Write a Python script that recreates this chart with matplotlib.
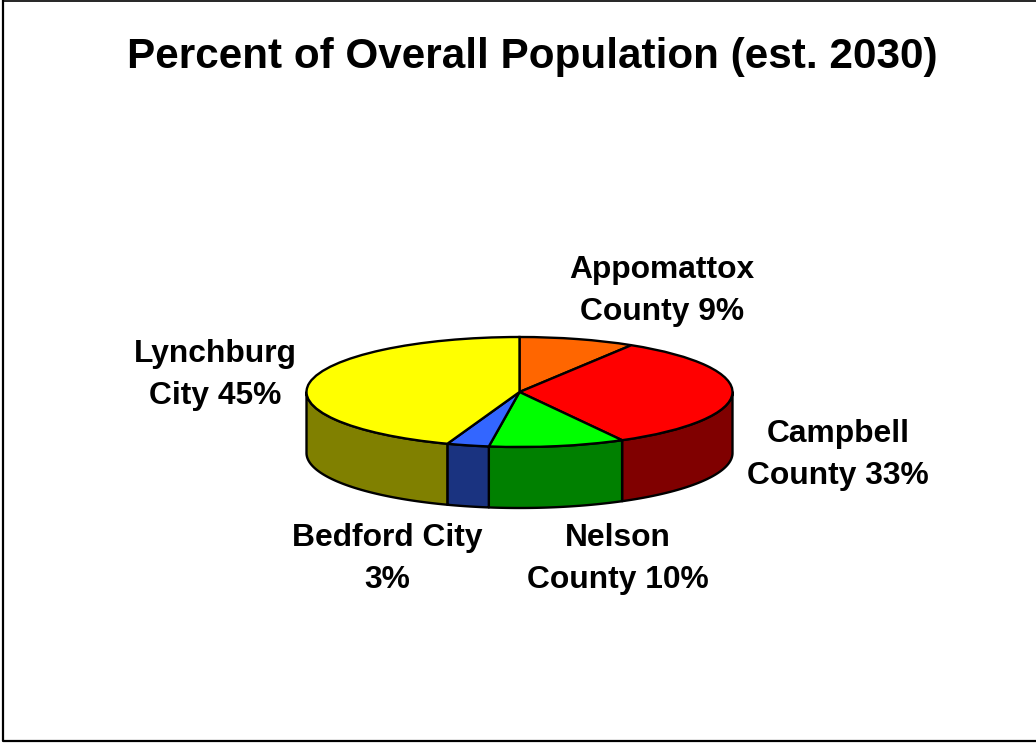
import matplotlib
matplotlib.use('Agg')
import matplotlib.pyplot as plt
import numpy as np
from matplotlib.lines import Line2D

plt.rcParams['font.family'] = ['Liberation Sans', 'DejaVu Sans']

W, H = 1036, 744

names = ['Appomattox\nCounty 9%', 'Campbell\nCounty 33%', 'Nelson\nCounty 10%', 'Bedford City\n3%', 'Lynchburg\nCity 45%']
values = [8.8, 33.2, 10.3, 3.2, 44.5]
top_colors = ['#FF6600', '#FF0000', '#00FF00', '#3366FF', '#FFFF00']
side_colors = ['#803300', '#800000', '#008000', '#1A3380', '#808000']
title = 'Percent of Overall Population (est. 2030)'

# pixel geometry of the flattened pie
cx, cy = 519.5, 392
rx, ry = 213, 55
depth = 61 / ry

label_pos = [(662, 291), (838, 455), (618, 559), (387, 559), (215, 375)]


def px(x, y):
    return x / W, 1 - y / H


fig = plt.figure(figsize=(W / 100, H / 100), dpi=100)
ax = fig.add_axes([0, 0, 1, 1])

# side walls, only the front half of the pie shows them
edges = np.cumsum([0] + values) / sum(values) * 360
for i in range(len(values)):
    a1 = max(edges[i], 90)
    a2 = min(edges[i + 1], 270)
    if a2 <= a1:
        continue
    t = np.radians(np.linspace(a1, a2, 80))
    xs = np.sin(t)
    ys = np.cos(t)
    ax.fill(np.r_[xs, xs[::-1]], np.r_[ys, ys[::-1] - depth],
            facecolor=side_colors[i], edgecolor='black', linewidth=1.7, zorder=1, joinstyle='round')

ax.pie(values, colors=top_colors, startangle=90, counterclock=False, radius=1,
       wedgeprops={'edgecolor': 'black', 'linewidth': 1.7, 'zorder': 2})

ax.set_aspect('auto')
ax.set_xlim(-cx / rx, (W - cx) / rx)
ax.set_ylim((cy - H) / ry, cy / ry)
ax.axis('off')

fig.text(*px(532, 57), title, ha='center', va='center', fontsize=30.4, fontweight='bold', color='black')
for name, (lx, ly) in zip(names, label_pos):
    fig.text(*px(lx, ly), name, ha='center', va='center', fontsize=22.9, fontweight='bold',
             color='black', linespacing=1.52, multialignment='center')

# chart frame, no right side in the original
frame_x = [px(3, 0)[0], px(3, 741)[0], 1]
frame_y = [1, px(3, 741)[1], px(3, 741)[1]]
fig.add_artist(Line2D(frame_x, frame_y, color='black', linewidth=1.6))
fig.add_artist(Line2D([px(3, 0)[0], 1], [px(0, 0.5)[1]] * 2, color='black', linewidth=1.2))

fig.savefig('out.png', dpi=100)
